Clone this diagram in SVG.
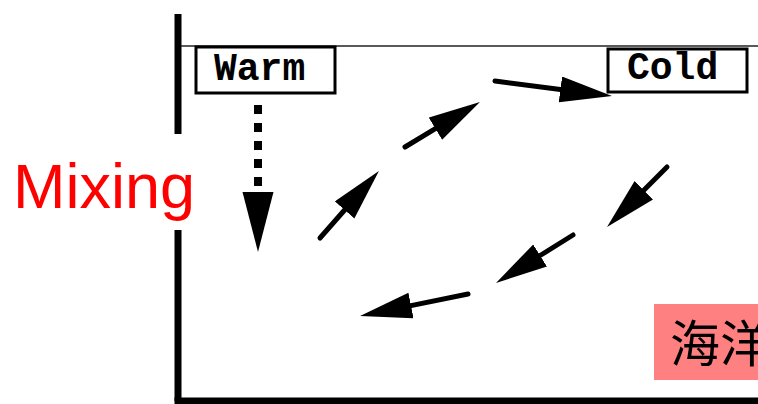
<svg xmlns="http://www.w3.org/2000/svg" width="758" height="404" viewBox="0 0 758 404">
  <style>
    .axis { stroke: #000; stroke-width: 7; fill: none; }
    .surface { stroke: #222; stroke-width: 1.5; fill: none; }
    .box { fill: #fff; stroke: #000; stroke-width: 3; }
    .mono { font-family: "Liberation Mono", "Courier New", monospace; font-weight: bold; font-size: 38px; fill: #000; }
    .flow { stroke: #000; stroke-width: 5; stroke-linecap: round; fill: none; marker-end: url(#head); }
    .sink { stroke: #000; stroke-width: 8; stroke-dasharray: 9 9; fill: none; marker-end: url(#headBig); }
  </style>
  <defs>
    <marker id="head" markerUnits="userSpaceOnUse" markerWidth="54" markerHeight="28" refX="0" refY="13" orient="auto">
      <path d="M0,0 L52,13 L0,26 Z" fill="#000"/>
    </marker>
    <marker id="headBig" markerUnits="userSpaceOnUse" markerWidth="62" markerHeight="32" refX="0" refY="15.5" orient="auto">
      <path d="M0,0 L60,15.5 L0,31 Z" fill="#000"/>
    </marker>
  </defs>

  <rect width="758" height="404" fill="#fff"/>

  <!-- basin walls and surface -->
  <g id="basin">
    <line class="axis" x1="178" y1="14" x2="178" y2="401"/>
    <line class="axis" x1="174.5" y1="401" x2="758" y2="401"/>
    <line class="surface" x1="181" y1="46" x2="758" y2="46"/>
  </g>

  <!-- circulation arrows -->
  <g id="connectors">
    <line class="sink" x1="258" y1="105" x2="258" y2="192"/>
    <line class="flow" x1="320" y1="238" x2="344.6" y2="210"/>
    <line class="flow" x1="405" y1="147" x2="435.4" y2="128.7"/>
    <line class="flow" x1="495" y1="81" x2="560.4" y2="89.4"/>
    <line class="flow" x1="667" y1="167" x2="643.8" y2="190.2"/>
    <line class="flow" x1="573" y1="235" x2="540.1" y2="255.5"/>
    <line class="flow" x1="468" y1="294" x2="411" y2="305.6"/>
  </g>

  <g id="warm">
    <rect class="box" x="196" y="47" width="139" height="46"/>
    <text class="mono" x="214" y="80">Warm</text>
  </g>

  <g id="cold">
    <rect class="box" x="608" y="49" width="139" height="43"/>
    <text class="mono" x="627" y="79">Cold</text>
  </g>

  <g id="mixing">
    <rect x="0" y="134" width="218" height="96" fill="#fff"/>
    <text x="13" y="208" font-family="'Liberation Sans', Arial, sans-serif" font-size="63" fill="#ff0000">Mixing</text>
  </g>

  <g id="ocean">
    <rect x="654" y="304" width="110" height="76" fill="#ff8080"/>
    <text x="670" y="362" font-family="'Noto Sans CJK SC', sans-serif" font-size="50" fill="#000">海洋</text>
  </g>
</svg>
